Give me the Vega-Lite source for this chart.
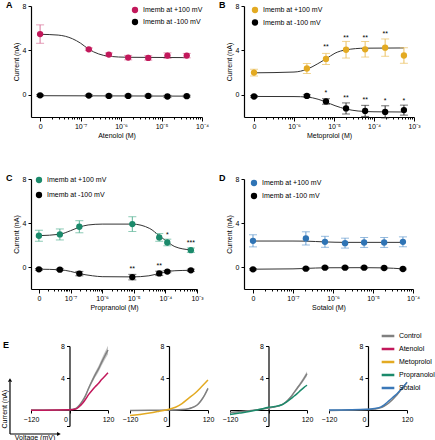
{
"$schema": "https://vega.github.io/schema/vega-lite/v6.json",
"padding": {"left": 1, "top": 1, "right": 0, "bottom": 0},
"config": {
  "font": "Liberation Sans",
  "view": {"stroke": null},
  "axis": {"grid": false, "domainColor": "#000", "tickColor": "#000", "labelColor": "#000", "titleColor": "#000", "labelFontSize": 7, "titleFontSize": 7, "titleFontWeight": "normal", "domainWidth": 1.2, "tickWidth": 1, "labelPadding": 2, "titlePadding": 3},
  "axisX": {"labelPadding": 1, "titlePadding": 2},
  "title": {"fontSize": 9, "fontWeight": "bold", "anchor": "start", "frame": "group", "dx": -25, "offset": -8, "color": "#000"},
  "legend": {"labelFontSize": 7, "labelColor": "#000", "padding": 0}
},
"datasets": {
  "A": [
    {"series":"+100 mV","conc":1e-8,"v":5.47,"err":0.83},
    {"series":"+100 mV","conc":1.6e-7,"v":4.1,"err":0.12},
    {"series":"+100 mV","conc":5e-7,"v":3.62,"err":0.15},
    {"series":"+100 mV","conc":1.5e-6,"v":3.35,"err":0.2},
    {"series":"+100 mV","conc":4.7e-6,"v":3.32,"err":0.2},
    {"series":"+100 mV","conc":1.4e-5,"v":3.53,"err":0.25},
    {"series":"+100 mV","conc":4.2e-5,"v":3.53,"err":0.2},
    {"series":"-100 mV","conc":1e-8,"v":-0.05,"err":0.08},
    {"series":"-100 mV","conc":1.6e-7,"v":-0.07,"err":0.08},
    {"series":"-100 mV","conc":5e-7,"v":-0.1,"err":0.08},
    {"series":"-100 mV","conc":1.5e-6,"v":-0.1,"err":0.08},
    {"series":"-100 mV","conc":4.7e-6,"v":-0.1,"err":0.08},
    {"series":"-100 mV","conc":1.4e-5,"v":-0.15,"err":0.1},
    {"series":"-100 mV","conc":4.2e-5,"v":-0.12,"err":0.08}
  ],
  "Afit": [
    {"series":"+100 mV","conc":1e-8,"v":5.45},
    {"series":"+100 mV","conc":2.8e-8,"v":5.38},
    {"series":"+100 mV","conc":6.3e-8,"v":5.05},
    {"series":"+100 mV","conc":1e-7,"v":4.65},
    {"series":"+100 mV","conc":1.6e-7,"v":4.1},
    {"series":"+100 mV","conc":2.8e-7,"v":3.68},
    {"series":"+100 mV","conc":5e-7,"v":3.47},
    {"series":"+100 mV","conc":1.5e-6,"v":3.38},
    {"series":"+100 mV","conc":4.2e-5,"v":3.35},
    {"series":"-100 mV","conc":1e-8,"v":-0.08},
    {"series":"-100 mV","conc":4.2e-5,"v":-0.12}
  ],
  "B": [
    {"series":"+100 mV","conc":1e-7,"v":2.0,"err":0.3},
    {"series":"+100 mV","conc":2.1e-6,"v":2.37,"err":0.45},
    {"series":"+100 mV","conc":6.3e-6,"v":3.23,"err":0.5},
    {"series":"+100 mV","conc":2e-5,"v":4.06,"err":0.75},
    {"series":"+100 mV","conc":6e-5,"v":4.1,"err":0.7},
    {"series":"+100 mV","conc":1.9e-4,"v":4.25,"err":0.78},
    {"series":"+100 mV","conc":5.6e-4,"v":3.54,"err":0.7},
    {"series":"-100 mV","conc":1e-7,"v":-0.15,"err":0.08},
    {"series":"-100 mV","conc":2.1e-6,"v":-0.1,"err":0.1},
    {"series":"-100 mV","conc":6.3e-6,"v":-0.6,"err":0.25},
    {"series":"-100 mV","conc":2e-5,"v":-1.23,"err":0.5},
    {"series":"-100 mV","conc":6e-5,"v":-1.45,"err":0.5},
    {"series":"-100 mV","conc":1.9e-4,"v":-1.54,"err":0.55},
    {"series":"-100 mV","conc":5.6e-4,"v":-1.38,"err":0.45}
  ],
  "Bfit": [
    {"series":"+100 mV","conc":1e-7,"v":1.98},
    {"series":"+100 mV","conc":1e-6,"v":2.05},
    {"series":"+100 mV","conc":2.1e-6,"v":2.3},
    {"series":"+100 mV","conc":3.8e-6,"v":2.77},
    {"series":"+100 mV","conc":6.3e-6,"v":3.23},
    {"series":"+100 mV","conc":1.06e-5,"v":3.75},
    {"series":"+100 mV","conc":2e-5,"v":4.05},
    {"series":"+100 mV","conc":6e-5,"v":4.2},
    {"series":"+100 mV","conc":5.6e-4,"v":4.22},
    {"series":"-100 mV","conc":1e-7,"v":-0.15},
    {"series":"-100 mV","conc":1e-6,"v":-0.16},
    {"series":"-100 mV","conc":2.1e-6,"v":-0.2},
    {"series":"-100 mV","conc":4e-6,"v":-0.4},
    {"series":"-100 mV","conc":6.3e-6,"v":-0.65},
    {"series":"-100 mV","conc":1.06e-5,"v":-0.98},
    {"series":"-100 mV","conc":2e-5,"v":-1.28},
    {"series":"-100 mV","conc":4e-5,"v":-1.46},
    {"series":"-100 mV","conc":1e-4,"v":-1.53},
    {"series":"-100 mV","conc":5.6e-4,"v":-1.55}
  ],
  "Bstars": [
    {"conc":6.3e-6,"v":4.3,"label":"**"},
    {"conc":2e-5,"v":5.08,"label":"**"},
    {"conc":6e-5,"v":5.08,"label":"**"},
    {"conc":1.9e-4,"v":5.45,"label":"**"},
    {"conc":6.3e-6,"v":0.12,"label":"*"},
    {"conc":2e-5,"v":-0.3,"label":"**"},
    {"conc":6e-5,"v":-0.46,"label":"**"},
    {"conc":1.9e-4,"v":-0.55,"label":"*"},
    {"conc":5.6e-4,"v":-0.52,"label":"*"}
  ],
  "C": [
    {"series":"+100 mV","conc":1e-8,"v":2.84,"err":0.5},
    {"series":"+100 mV","conc":4.6e-8,"v":2.96,"err":0.5},
    {"series":"+100 mV","conc":1.9e-7,"v":3.66,"err":0.55},
    {"series":"+100 mV","conc":9e-6,"v":3.9,"err":0.67},
    {"series":"+100 mV","conc":6.4e-5,"v":2.69,"err":0.35},
    {"series":"+100 mV","conc":1.15e-4,"v":2.23,"err":0.3},
    {"series":"+100 mV","conc":6.4e-4,"v":1.53,"err":0.2},
    {"series":"-100 mV","conc":1e-8,"v":-0.21,"err":0.08},
    {"series":"-100 mV","conc":4.6e-8,"v":-0.24,"err":0.08},
    {"series":"-100 mV","conc":1.9e-7,"v":-0.6,"err":0.2},
    {"series":"-100 mV","conc":9e-6,"v":-0.92,"err":0.25},
    {"series":"-100 mV","conc":6.4e-5,"v":-0.58,"err":0.2},
    {"series":"-100 mV","conc":1.15e-4,"v":-0.42,"err":0.1},
    {"series":"-100 mV","conc":6.4e-4,"v":-0.3,"err":0.1}
  ],
  "Cfit": [
    {"series":"+100 mV","conc":1e-8,"v":2.85},
    {"series":"+100 mV","conc":4.6e-8,"v":2.98},
    {"series":"+100 mV","conc":1e-7,"v":3.3},
    {"series":"+100 mV","conc":1.9e-7,"v":3.62},
    {"series":"+100 mV","conc":3.6e-7,"v":3.82},
    {"series":"+100 mV","conc":1e-6,"v":3.9},
    {"series":"+100 mV","conc":9e-6,"v":3.9},
    {"series":"+100 mV","conc":3.2e-5,"v":3.5},
    {"series":"+100 mV","conc":6.4e-5,"v":2.85},
    {"series":"+100 mV","conc":1.15e-4,"v":2.3},
    {"series":"+100 mV","conc":2e-4,"v":1.85},
    {"series":"+100 mV","conc":6.4e-4,"v":1.55},
    {"series":"-100 mV","conc":1e-8,"v":-0.2},
    {"series":"-100 mV","conc":4.6e-8,"v":-0.25},
    {"series":"-100 mV","conc":1e-7,"v":-0.4},
    {"series":"-100 mV","conc":1.9e-7,"v":-0.6},
    {"series":"-100 mV","conc":5e-7,"v":-0.8},
    {"series":"-100 mV","conc":1e-6,"v":-0.88},
    {"series":"-100 mV","conc":9e-6,"v":-0.9},
    {"series":"-100 mV","conc":3e-5,"v":-0.8},
    {"series":"-100 mV","conc":6.4e-5,"v":-0.58},
    {"series":"-100 mV","conc":1.15e-4,"v":-0.42},
    {"series":"-100 mV","conc":2e-4,"v":-0.34},
    {"series":"-100 mV","conc":6.4e-4,"v":-0.3}
  ],
  "Cstars": [
    {"conc":1.15e-4,"v":2.93,"label":"*"},
    {"conc":6.4e-4,"v":2.2,"label":"***"},
    {"conc":9e-6,"v":-0.22,"label":"**"},
    {"conc":6.4e-5,"v":0.1,"label":"**"}
  ],
  "D": [
    {"series":"+100 mV","conc":1e-8,"v":2.38,"err":0.55},
    {"series":"+100 mV","conc":2.1e-7,"v":2.6,"err":0.6},
    {"series":"+100 mV","conc":6.3e-7,"v":2.29,"err":0.5},
    {"series":"+100 mV","conc":2e-6,"v":2.17,"err":0.45},
    {"series":"+100 mV","conc":6e-6,"v":2.23,"err":0.45},
    {"series":"+100 mV","conc":1.9e-5,"v":2.23,"err":0.45},
    {"series":"+100 mV","conc":5.6e-5,"v":2.29,"err":0.45},
    {"series":"-100 mV","conc":1e-8,"v":-0.21,"err":0.07},
    {"series":"-100 mV","conc":2.1e-7,"v":-0.15,"err":0.07},
    {"series":"-100 mV","conc":6.3e-7,"v":-0.06,"err":0.07},
    {"series":"-100 mV","conc":2e-6,"v":-0.06,"err":0.07},
    {"series":"-100 mV","conc":6e-6,"v":-0.06,"err":0.07},
    {"series":"-100 mV","conc":1.9e-5,"v":-0.09,"err":0.07},
    {"series":"-100 mV","conc":5.6e-5,"v":-0.18,"err":0.07}
  ],
  "Dfit": [
    {"series":"+100 mV","conc":1e-8,"v":2.36},
    {"series":"+100 mV","conc":1e-7,"v":2.36},
    {"series":"+100 mV","conc":2.1e-7,"v":2.35},
    {"series":"+100 mV","conc":6.3e-7,"v":2.28},
    {"series":"+100 mV","conc":2e-6,"v":2.24},
    {"series":"+100 mV","conc":5.6e-5,"v":2.24},
    {"series":"-100 mV","conc":1e-8,"v":-0.2},
    {"series":"-100 mV","conc":1e-7,"v":-0.17},
    {"series":"-100 mV","conc":2.1e-7,"v":-0.13},
    {"series":"-100 mV","conc":6.3e-7,"v":-0.07},
    {"series":"-100 mV","conc":6e-6,"v":-0.06},
    {"series":"-100 mV","conc":1.9e-5,"v":-0.08},
    {"series":"-100 mV","conc":5.6e-5,"v":-0.17}
  ],
  "E": [
    {"p":1,"s":"Control","V":-120,"I":0,"lo":-0.03,"hi":0.03},
    {"p":1,"s":"Control","V":-80,"I":0,"lo":-0.03,"hi":0.03},
    {"p":1,"s":"Control","V":-40,"I":0,"lo":-0.03,"hi":0.03},
    {"p":1,"s":"Control","V":0,"I":0.02,"lo":-0.01,"hi":0.05},
    {"p":1,"s":"Control","V":20,"I":0.2,"lo":0.15,"hi":0.25},
    {"p":1,"s":"Control","V":30,"I":0.55,"lo":0.47,"hi":0.63},
    {"p":1,"s":"Control","V":40,"I":1.1,"lo":0.98,"hi":1.22},
    {"p":1,"s":"Control","V":50,"I":1.8,"lo":1.63,"hi":1.97},
    {"p":1,"s":"Control","V":60,"I":2.75,"lo":2.53,"hi":2.97},
    {"p":1,"s":"Control","V":70,"I":3.6,"lo":3.33,"hi":3.87},
    {"p":1,"s":"Control","V":80,"I":4.4,"lo":4.08,"hi":4.72},
    {"p":1,"s":"Control","V":90,"I":5.1,"lo":4.73,"hi":5.47},
    {"p":1,"s":"Control","V":100,"I":5.95,"lo":5.53,"hi":6.37},
    {"p":1,"s":"Control","V":110,"I":6.75,"lo":6.28,"hi":7.22},
    {"p":1,"s":"Control","V":120,"I":7.5,"lo":6.98,"hi":8.02},
    {"p":1,"s":"Atenolol","V":-120,"I":-0.02},
    {"p":1,"s":"Atenolol","V":-80,"I":-0.02},
    {"p":1,"s":"Atenolol","V":-40,"I":-0.01},
    {"p":1,"s":"Atenolol","V":0,"I":0.02},
    {"p":1,"s":"Atenolol","V":20,"I":0.12},
    {"p":1,"s":"Atenolol","V":30,"I":0.4},
    {"p":1,"s":"Atenolol","V":40,"I":0.8},
    {"p":1,"s":"Atenolol","V":50,"I":1.35},
    {"p":1,"s":"Atenolol","V":60,"I":1.95},
    {"p":1,"s":"Atenolol","V":70,"I":2.45},
    {"p":1,"s":"Atenolol","V":80,"I":2.9},
    {"p":1,"s":"Atenolol","V":90,"I":3.3},
    {"p":1,"s":"Atenolol","V":100,"I":3.8},
    {"p":1,"s":"Atenolol","V":110,"I":4.22},
    {"p":1,"s":"Atenolol","V":120,"I":4.65},
    {"p":2,"s":"Control","V":-120,"I":-0.05,"lo":-0.08,"hi":-0.02},
    {"p":2,"s":"Control","V":-60,"I":-0.03,"lo":-0.06,"hi":0.0},
    {"p":2,"s":"Control","V":0,"I":0.0,"lo":-0.03,"hi":0.03},
    {"p":2,"s":"Control","V":40,"I":0.05,"lo":0.01,"hi":0.09},
    {"p":2,"s":"Control","V":60,"I":0.15,"lo":0.1,"hi":0.2},
    {"p":2,"s":"Control","V":70,"I":0.28,"lo":0.22,"hi":0.34},
    {"p":2,"s":"Control","V":80,"I":0.45,"lo":0.38,"hi":0.52},
    {"p":2,"s":"Control","V":90,"I":0.75,"lo":0.66,"hi":0.84},
    {"p":2,"s":"Control","V":100,"I":1.25,"lo":1.14,"hi":1.36},
    {"p":2,"s":"Control","V":110,"I":1.9,"lo":1.77,"hi":2.03},
    {"p":2,"s":"Control","V":120,"I":2.7,"lo":2.55,"hi":2.85},
    {"p":2,"s":"Metoprolol","V":-120,"I":-0.7},
    {"p":2,"s":"Metoprolol","V":-90,"I":-0.55},
    {"p":2,"s":"Metoprolol","V":-60,"I":-0.38},
    {"p":2,"s":"Metoprolol","V":-30,"I":-0.15},
    {"p":2,"s":"Metoprolol","V":0,"I":0.1},
    {"p":2,"s":"Metoprolol","V":20,"I":0.35},
    {"p":2,"s":"Metoprolol","V":40,"I":0.8},
    {"p":2,"s":"Metoprolol","V":60,"I":1.45},
    {"p":2,"s":"Metoprolol","V":80,"I":2.1},
    {"p":2,"s":"Metoprolol","V":100,"I":2.9},
    {"p":2,"s":"Metoprolol","V":120,"I":3.75},
    {"p":3,"s":"Control","V":-120,"I":-0.3,"lo":-0.35,"hi":-0.25},
    {"p":3,"s":"Control","V":-60,"I":-0.1,"lo":-0.15,"hi":-0.05},
    {"p":3,"s":"Control","V":0,"I":0.25,"lo":0.2,"hi":0.3},
    {"p":3,"s":"Control","V":30,"I":0.5,"lo":0.43,"hi":0.57},
    {"p":3,"s":"Control","V":50,"I":0.85,"lo":0.76,"hi":0.94},
    {"p":3,"s":"Control","V":60,"I":1.2,"lo":1.09,"hi":1.31},
    {"p":3,"s":"Control","V":70,"I":1.65,"lo":1.52,"hi":1.78},
    {"p":3,"s":"Control","V":80,"I":2.2,"lo":2.05,"hi":2.35},
    {"p":3,"s":"Control","V":90,"I":2.75,"lo":2.57,"hi":2.93},
    {"p":3,"s":"Control","V":100,"I":3.3,"lo":3.08,"hi":3.52},
    {"p":3,"s":"Control","V":110,"I":3.9,"lo":3.65,"hi":4.15},
    {"p":3,"s":"Control","V":120,"I":4.55,"lo":4.25,"hi":4.85},
    {"p":3,"s":"Propranolol","V":-120,"I":-0.55},
    {"p":3,"s":"Propranolol","V":-90,"I":-0.38},
    {"p":3,"s":"Propranolol","V":-60,"I":-0.2},
    {"p":3,"s":"Propranolol","V":-30,"I":0.05},
    {"p":3,"s":"Propranolol","V":0,"I":0.33},
    {"p":3,"s":"Propranolol","V":20,"I":0.45},
    {"p":3,"s":"Propranolol","V":40,"I":0.62},
    {"p":3,"s":"Propranolol","V":50,"I":0.85},
    {"p":3,"s":"Propranolol","V":60,"I":1.12},
    {"p":3,"s":"Propranolol","V":70,"I":1.42},
    {"p":3,"s":"Propranolol","V":80,"I":1.75},
    {"p":3,"s":"Propranolol","V":90,"I":2.07},
    {"p":3,"s":"Propranolol","V":100,"I":2.45},
    {"p":3,"s":"Propranolol","V":110,"I":2.8},
    {"p":3,"s":"Propranolol","V":120,"I":3.1},
    {"p":4,"s":"Control","V":-120,"I":-0.05,"lo":-0.08,"hi":-0.02},
    {"p":4,"s":"Control","V":0,"I":0.05,"lo":0.02,"hi":0.08},
    {"p":4,"s":"Control","V":20,"I":0.12,"lo":0.08,"hi":0.16},
    {"p":4,"s":"Control","V":40,"I":0.3,"lo":0.25,"hi":0.35},
    {"p":4,"s":"Control","V":50,"I":0.5,"lo":0.44,"hi":0.56},
    {"p":4,"s":"Control","V":60,"I":0.75,"lo":0.68,"hi":0.82},
    {"p":4,"s":"Control","V":70,"I":1.1,"lo":1.02,"hi":1.18},
    {"p":4,"s":"Control","V":80,"I":1.5,"lo":1.41,"hi":1.59},
    {"p":4,"s":"Control","V":90,"I":1.95,"lo":1.85,"hi":2.05},
    {"p":4,"s":"Control","V":100,"I":2.45,"lo":2.33,"hi":2.57},
    {"p":4,"s":"Control","V":110,"I":2.95,"lo":2.82,"hi":3.08},
    {"p":4,"s":"Control","V":120,"I":3.45,"lo":3.3,"hi":3.6},
    {"p":4,"s":"Sotalol","V":-120,"I":0.0},
    {"p":4,"s":"Sotalol","V":0,"I":0.1},
    {"p":4,"s":"Sotalol","V":20,"I":0.2},
    {"p":4,"s":"Sotalol","V":40,"I":0.4},
    {"p":4,"s":"Sotalol","V":50,"I":0.65},
    {"p":4,"s":"Sotalol","V":60,"I":1.0},
    {"p":4,"s":"Sotalol","V":70,"I":1.35},
    {"p":4,"s":"Sotalol","V":80,"I":1.7},
    {"p":4,"s":"Sotalol","V":90,"I":2.07},
    {"p":4,"s":"Sotalol","V":100,"I":2.5},
    {"p":4,"s":"Sotalol","V":110,"I":2.95},
    {"p":4,"s":"Sotalol","V":120,"I":3.45}
  ],
  "schemRules": [
    {"V":-185.5,"I":-3.0,"V2":-185.5,"I2":3.5},
    {"V":-185.5,"I":-3.0,"V2":-36,"I2":-3.0}
  ],
  "schemHeads": [
    {"V":-185.5,"I":3.75,"shape":"triangle-up"},
    {"V":-33,"I":-3.0,"shape":"triangle-right"}
  ],
  "schemText": [
    {"V":-201,"I":0.1,"t":"Current (nA)","a":270},
    {"V":-107.5,"I":-3.55,"t":"Voltage (mV)","a":0}
  ]
},
"vconcat": [
 {
  "spacing": 36,
  "vconcat": [
  {
    "bounds": "flush",
    "spacing": 42,
    "resolve": {"scale": {"color": "independent"}},
    "hconcat": [
      {
        "title": {"text": "A"},
        "width": 171, "height": 111,
        "encoding": {
          "x": {"field": "conc", "type": "quantitative", "scale": {"type": "log", "domain": [5.96e-9, 1e-4], "nice": false},
            "axis": {"title": "Atenolol (M)", "tickCount": 12, "labelFlush": false, "labelOverlap": false,
              "labelExpr": "abs(log(datum.value)/LN10+8)<0.01 ? '0' : (abs(log(datum.value)/LN10-round(log(datum.value)/LN10))<0.01 ? '10⁻'+substring('⁰¹²³⁴⁵⁶⁷⁸⁹',-round(log(datum.value)/LN10),1-round(log(datum.value)/LN10)) : '')",
              "tickSize": {"condition": {"test": "abs(log(datum.value)/LN10-round(log(datum.value)/LN10))<0.01", "value": 4}, "value": 2},
              "tickOpacity": {"condition": {"test": "datum.value<0.99e-8", "value": 0}, "value": 1}}},
          "y": {"field": "v", "type": "quantitative", "scale": {"domain": [-2, 8], "nice": false}, "axis": {"values": [0, 4, 8], "title": "Current (nA)", "tickSize": 3}}
        },
        "layer": [
          {"data": {"name": "Afit"}, "mark": {"type": "line", "interpolate": "monotone", "color": "#333", "strokeWidth": 1}, "encoding": {"detail": {"field": "series"}}},
          {"data": {"name": "A"}, "transform": [{"filter": "datum.series=='+100 mV'"}], "mark": {"type": "errorbar", "ticks": {"size": 8, "thickness": 1}, "thickness": 1, "color": "#D8739A"}, "encoding": {"yError": {"field": "err"}}},
          {"data": {"name": "A"}, "transform": [{"filter": "datum.series=='-100 mV'"}], "mark": {"type": "errorbar", "ticks": {"size": 8, "thickness": 1}, "thickness": 1, "color": "#333"}, "encoding": {"yError": {"field": "err"}}},
          {"data": {"name": "A"}, "mark": {"type": "point", "filled": true, "size": 40, "opacity": 1},
            "encoding": {"color": {"field": "series", "type": "nominal", "scale": {"domain": ["+100 mV", "-100 mV"], "range": ["#C2185B", "#000000"]},
              "legend": {"title": null, "orient": "none", "legendX": 100, "legendY": 0, "labelExpr": "'Imemb at ' + datum.label", "symbolSize": 40, "symbolType": "circle", "rowPadding": 4}}}}
        ]
      },
      {
        "title": {"text": "B"},
        "width": 170, "height": 111,
        "encoding": {
          "x": {"field": "conc", "type": "quantitative", "scale": {"type": "log", "domain": [5.62e-8, 1e-3], "nice": false},
            "axis": {"title": "Metoprolol (M)", "tickCount": 12, "labelFlush": false, "labelOverlap": false,
              "labelExpr": "abs(log(datum.value)/LN10+7)<0.01 ? '0' : (abs(log(datum.value)/LN10-round(log(datum.value)/LN10))<0.01 ? '10⁻'+substring('⁰¹²³⁴⁵⁶⁷⁸⁹',-round(log(datum.value)/LN10),1-round(log(datum.value)/LN10)) : '')",
              "tickSize": {"condition": {"test": "abs(log(datum.value)/LN10-round(log(datum.value)/LN10))<0.01", "value": 4}, "value": 2},
              "tickOpacity": {"condition": {"test": "datum.value<0.99e-7", "value": 0}, "value": 1}}},
          "y": {"field": "v", "type": "quantitative", "scale": {"domain": [-2, 8], "nice": false}, "axis": {"values": [0, 4, 8], "title": "Current (nA)", "tickSize": 3}}
        },
        "layer": [
          {"data": {"name": "Bfit"}, "mark": {"type": "line", "interpolate": "monotone", "color": "#333", "strokeWidth": 1}, "encoding": {"detail": {"field": "series"}}},
          {"data": {"name": "B"}, "transform": [{"filter": "datum.series=='+100 mV'"}], "mark": {"type": "errorbar", "ticks": {"size": 8, "thickness": 1}, "thickness": 1, "color": "#EBC060"}, "encoding": {"yError": {"field": "err"}}},
          {"data": {"name": "B"}, "transform": [{"filter": "datum.series=='-100 mV'"}], "mark": {"type": "errorbar", "ticks": {"size": 8, "thickness": 1}, "thickness": 1, "color": "#333"}, "encoding": {"yError": {"field": "err"}}},
          {"data": {"name": "B"}, "mark": {"type": "point", "filled": true, "size": 40, "opacity": 1},
            "encoding": {"color": {"field": "series", "type": "nominal", "scale": {"domain": ["+100 mV", "-100 mV"], "range": ["#E3AA22", "#000000"]},
              "legend": {"title": null, "orient": "none", "legendX": 7, "legendY": 0, "labelExpr": "'Imemb at ' + datum.label", "symbolSize": 40, "symbolType": "circle", "rowPadding": 4.5}}}},
          {"data": {"name": "Bstars"}, "mark": {"type": "text", "fontSize": 7, "baseline": "middle", "color": "#000"}, "encoding": {"text": {"field": "label"}}}
        ]
      }
    ]
  },
  {
    "bounds": "flush",
    "spacing": 47,
    "resolve": {"scale": {"color": "independent"}},
    "hconcat": [
      {
        "title": {"text": "C"},
        "width": 166, "height": 110,
        "encoding": {
          "x": {"field": "conc", "type": "quantitative", "scale": {"type": "log", "domain": [5.62e-9, 1e-3], "nice": false},
            "axis": {"title": "Propranolol (M)", "tickCount": 12, "labelFlush": false, "labelOverlap": false,
              "labelExpr": "abs(log(datum.value)/LN10+8)<0.01 ? '0' : (abs(log(datum.value)/LN10-round(log(datum.value)/LN10))<0.01 ? '10⁻'+substring('⁰¹²³⁴⁵⁶⁷⁸⁹',-round(log(datum.value)/LN10),1-round(log(datum.value)/LN10)) : '')",
              "tickSize": {"condition": {"test": "abs(log(datum.value)/LN10-round(log(datum.value)/LN10))<0.01", "value": 4}, "value": 2},
              "tickOpacity": {"condition": {"test": "datum.value<0.99e-8", "value": 0}, "value": 1}}},
          "y": {"field": "v", "type": "quantitative", "scale": {"domain": [-2, 8], "nice": false}, "axis": {"values": [0, 4, 8], "title": "Current (nA)", "tickSize": 3}}
        },
        "layer": [
          {"data": {"name": "Cfit"}, "mark": {"type": "line", "interpolate": "monotone", "color": "#333", "strokeWidth": 1}, "encoding": {"detail": {"field": "series"}}},
          {"data": {"name": "C"}, "transform": [{"filter": "datum.series=='+100 mV'"}], "mark": {"type": "errorbar", "ticks": {"size": 8, "thickness": 1}, "thickness": 1, "color": "#5AB396"}, "encoding": {"yError": {"field": "err"}}},
          {"data": {"name": "C"}, "transform": [{"filter": "datum.series=='-100 mV'"}], "mark": {"type": "errorbar", "ticks": {"size": 8, "thickness": 1}, "thickness": 1, "color": "#333"}, "encoding": {"yError": {"field": "err"}}},
          {"data": {"name": "C"}, "mark": {"type": "point", "filled": true, "size": 40, "opacity": 1},
            "encoding": {"color": {"field": "series", "type": "nominal", "scale": {"domain": ["+100 mV", "-100 mV"], "range": ["#1B8A6B", "#000000"]},
              "legend": {"title": null, "orient": "none", "legendX": 4, "legendY": -3, "labelExpr": "'Imemb at ' + datum.label", "symbolSize": 40, "symbolType": "circle", "rowPadding": 7}}}},
          {"data": {"name": "Cstars"}, "mark": {"type": "text", "fontSize": 7, "baseline": "middle", "color": "#000"}, "encoding": {"text": {"field": "label"}}}
        ]
      },
      {
        "title": {"text": "D"},
        "width": 169, "height": 110,
        "encoding": {
          "x": {"field": "conc", "type": "quantitative", "scale": {"type": "log", "domain": [5.96e-9, 1e-4], "nice": false},
            "axis": {"title": "Sotalol (M)", "tickCount": 12, "labelFlush": false, "labelOverlap": false,
              "labelExpr": "abs(log(datum.value)/LN10+8)<0.01 ? '0' : (abs(log(datum.value)/LN10-round(log(datum.value)/LN10))<0.01 ? '10⁻'+substring('⁰¹²³⁴⁵⁶⁷⁸⁹',-round(log(datum.value)/LN10),1-round(log(datum.value)/LN10)) : '')",
              "tickSize": {"condition": {"test": "abs(log(datum.value)/LN10-round(log(datum.value)/LN10))<0.01", "value": 4}, "value": 2},
              "tickOpacity": {"condition": {"test": "datum.value<0.99e-8", "value": 0}, "value": 1}}},
          "y": {"field": "v", "type": "quantitative", "scale": {"domain": [-2, 8], "nice": false}, "axis": {"values": [0, 4, 8], "title": "Current (nA)", "tickSize": 3}}
        },
        "layer": [
          {"data": {"name": "Dfit"}, "mark": {"type": "line", "interpolate": "monotone", "color": "#333", "strokeWidth": 1}, "encoding": {"detail": {"field": "series"}}},
          {"data": {"name": "D"}, "transform": [{"filter": "datum.series=='+100 mV'"}], "mark": {"type": "errorbar", "ticks": {"size": 8, "thickness": 1}, "thickness": 1, "color": "#6A9ED0"}, "encoding": {"yError": {"field": "err"}}},
          {"data": {"name": "D"}, "transform": [{"filter": "datum.series=='-100 mV'"}], "mark": {"type": "errorbar", "ticks": {"size": 8, "thickness": 1}, "thickness": 1, "color": "#333"}, "encoding": {"yError": {"field": "err"}}},
          {"data": {"name": "D"}, "mark": {"type": "point", "filled": true, "size": 40, "opacity": 1},
            "encoding": {"color": {"field": "series", "type": "nominal", "scale": {"domain": ["+100 mV", "-100 mV"], "range": ["#2F74B5", "#000000"]},
              "legend": {"title": null, "orient": "none", "legendX": 6, "legendY": 0, "labelExpr": "'Imemb at ' + datum.label", "symbolSize": 40, "symbolType": "circle", "rowPadding": 5}}}}
        ]
      }
    ]
  }
  ]
 },
  {
    "bounds": "flush",
    "spacing": 22,
    "resolve": {"scale": {"color": "independent"}},
    "hconcat": [
      {
        "title": {"text": "E", "dx": -28},
        "width": 77, "height": 80,
        "encoding": {
          "x": {"field": "V", "type": "quantitative", "scale": {"domain": [-120, 120], "nice": false}, "axis": {"values": [-120, 0, 120], "title": null, "offset": -16, "tickSize": 3, "labelPadding": 2, "labelFlush": false, "labelAlign": {"condition": {"test": "datum.value==0", "value": "right"}, "value": "center"}, "labelOffset": {"condition": {"test": "datum.value==0", "value": -2}, "value": 0}}},
          "y": {"field": "I", "type": "quantitative", "scale": {"domain": [-2, 8], "nice": false}, "axis": {"values": [-2, 4, 8], "labelExpr": "datum.value==-2 ? '' : datum.label", "title": null, "offset": -38.5, "tickSize": 3}}
        },
        "layer": [
          {"data": {"name": "E"}, "transform": [{"filter": "datum.p==1 && datum.s=='Control'"}], "mark": {"type": "area", "color": "#c4c4c4", "interpolate": "monotone"},
            "encoding": {"y": {"field": "lo", "type": "quantitative", "scale": {"domain": [-2, 8], "nice": false}, "axis": {"values": [-2, 4, 8], "labelExpr": "datum.value==-2 ? '' : datum.label", "title": null, "offset": -38.5, "tickSize": 3}}, "y2": {"field": "hi"}}},
          {"data": {"name": "E"}, "transform": [{"filter": "datum.p==1 && datum.s=='Control'"}], "mark": {"type": "line", "strokeWidth": 1.5, "interpolate": "monotone"},
            "encoding": {"color": {"field": "s", "type": "nominal", "scale": {"domain": ["Control", "Atenolol", "Metoprolol", "Propranolol", "Sotalol"], "range": ["#808080", "#C2185B", "#E3AA22", "#1B8A6B", "#3A78B8"]}, "legend": null}}},
          {"data": {"name": "E"}, "transform": [{"filter": "datum.p==1 && datum.s!='Control'"}], "mark": {"type": "line", "strokeWidth": 1.5, "interpolate": "monotone"},
            "encoding": {"color": {"field": "s", "type": "nominal", "scale": {"domain": ["Control", "Atenolol", "Metoprolol", "Propranolol", "Sotalol"], "range": ["#808080", "#C2185B", "#E3AA22", "#1B8A6B", "#3A78B8"]}, "legend": null}}},
          {"data": {"name": "schemRules"}, "mark": {"type": "rule", "color": "#000", "strokeWidth": 1.2}, "encoding": {"x2": {"field": "V2"}, "y2": {"field": "I2"}}},
          {"data": {"name": "schemHeads"}, "mark": {"type": "point", "filled": true, "color": "#000", "size": 18, "opacity": 1}, "encoding": {"shape": {"field": "shape", "type": "nominal", "scale": null}}},
          {"data": {"name": "schemText"}, "mark": {"type": "text", "fontSize": 7, "color": "#000"}, "encoding": {"text": {"field": "t"}, "angle": {"field": "a", "type": "quantitative", "scale": null}}}
        ]
      },
      {
        "width": 78, "height": 80,
        "encoding": {
          "x": {"field": "V", "type": "quantitative", "scale": {"domain": [-120, 120], "nice": false}, "axis": {"values": [-120, 0, 120], "title": null, "offset": -16, "tickSize": 3, "labelPadding": 2, "labelFlush": false, "labelAlign": {"condition": {"test": "datum.value==0", "value": "right"}, "value": "center"}, "labelOffset": {"condition": {"test": "datum.value==0", "value": -2}, "value": 0}}},
          "y": {"field": "I", "type": "quantitative", "scale": {"domain": [-2, 8], "nice": false}, "axis": {"values": [-2, 4, 8], "labelExpr": "datum.value==-2 ? '' : datum.label", "title": null, "offset": -39, "tickSize": 3}}
        },
        "layer": [
          {"data": {"name": "E"}, "transform": [{"filter": "datum.p==2 && datum.s=='Control'"}], "mark": {"type": "area", "color": "#c4c4c4", "interpolate": "monotone"},
            "encoding": {"y": {"field": "lo", "type": "quantitative", "scale": {"domain": [-2, 8], "nice": false}, "axis": {"values": [-2, 4, 8], "labelExpr": "datum.value==-2 ? '' : datum.label", "title": null, "offset": -39, "tickSize": 3}}, "y2": {"field": "hi"}}},
          {"data": {"name": "E"}, "transform": [{"filter": "datum.p==2 && datum.s=='Control'"}], "mark": {"type": "line", "strokeWidth": 1.5, "interpolate": "monotone"},
            "encoding": {"color": {"field": "s", "type": "nominal", "scale": {"domain": ["Control", "Atenolol", "Metoprolol", "Propranolol", "Sotalol"], "range": ["#808080", "#C2185B", "#E3AA22", "#1B8A6B", "#3A78B8"]}, "legend": null}}},
          {"data": {"name": "E"}, "transform": [{"filter": "datum.p==2 && datum.s!='Control'"}], "mark": {"type": "line", "strokeWidth": 1.5, "interpolate": "monotone"},
            "encoding": {"color": {"field": "s", "type": "nominal", "scale": {"domain": ["Control", "Atenolol", "Metoprolol", "Propranolol", "Sotalol"], "range": ["#808080", "#C2185B", "#E3AA22", "#1B8A6B", "#3A78B8"]}, "legend": null}}}
        ]
      },
      {
        "width": 77, "height": 80,
        "encoding": {
          "x": {"field": "V", "type": "quantitative", "scale": {"domain": [-120, 120], "nice": false}, "axis": {"values": [-120, 0, 120], "title": null, "offset": -16, "tickSize": 3, "labelPadding": 2, "labelFlush": false, "labelAlign": {"condition": {"test": "datum.value==0", "value": "right"}, "value": "center"}, "labelOffset": {"condition": {"test": "datum.value==0", "value": -2}, "value": 0}}},
          "y": {"field": "I", "type": "quantitative", "scale": {"domain": [-2, 8], "nice": false}, "axis": {"values": [-2, 4, 8], "labelExpr": "datum.value==-2 ? '' : datum.label", "title": null, "offset": -38.5, "tickSize": 3}}
        },
        "layer": [
          {"data": {"name": "E"}, "transform": [{"filter": "datum.p==3 && datum.s=='Control'"}], "mark": {"type": "area", "color": "#c4c4c4", "interpolate": "monotone"},
            "encoding": {"y": {"field": "lo", "type": "quantitative", "scale": {"domain": [-2, 8], "nice": false}, "axis": {"values": [-2, 4, 8], "labelExpr": "datum.value==-2 ? '' : datum.label", "title": null, "offset": -38.5, "tickSize": 3}}, "y2": {"field": "hi"}}},
          {"data": {"name": "E"}, "transform": [{"filter": "datum.p==3 && datum.s=='Control'"}], "mark": {"type": "line", "strokeWidth": 1.5, "interpolate": "monotone"},
            "encoding": {"color": {"field": "s", "type": "nominal", "scale": {"domain": ["Control", "Atenolol", "Metoprolol", "Propranolol", "Sotalol"], "range": ["#808080", "#C2185B", "#E3AA22", "#1B8A6B", "#3A78B8"]}, "legend": null}}},
          {"data": {"name": "E"}, "transform": [{"filter": "datum.p==3 && datum.s!='Control'"}], "mark": {"type": "line", "strokeWidth": 1.5, "interpolate": "monotone"},
            "encoding": {"color": {"field": "s", "type": "nominal", "scale": {"domain": ["Control", "Atenolol", "Metoprolol", "Propranolol", "Sotalol"], "range": ["#808080", "#C2185B", "#E3AA22", "#1B8A6B", "#3A78B8"]}, "legend": null}}}
        ]
      },
      {
        "width": 78, "height": 80,
        "encoding": {
          "x": {"field": "V", "type": "quantitative", "scale": {"domain": [-120, 120], "nice": false}, "axis": {"values": [-120, 0, 120], "title": null, "offset": -16, "tickSize": 3, "labelPadding": 2, "labelFlush": false, "labelAlign": {"condition": {"test": "datum.value==0", "value": "right"}, "value": "center"}, "labelOffset": {"condition": {"test": "datum.value==0", "value": -2}, "value": 0}}},
          "y": {"field": "I", "type": "quantitative", "scale": {"domain": [-2, 8], "nice": false}, "axis": {"values": [-2, 4, 8], "labelExpr": "datum.value==-2 ? '' : datum.label", "title": null, "offset": -39, "tickSize": 3}}
        },
        "layer": [
          {"data": {"name": "E"}, "transform": [{"filter": "datum.p==4 && datum.s=='Control'"}], "mark": {"type": "area", "color": "#c4c4c4", "interpolate": "monotone"},
            "encoding": {"y": {"field": "lo", "type": "quantitative", "scale": {"domain": [-2, 8], "nice": false}, "axis": {"values": [-2, 4, 8], "labelExpr": "datum.value==-2 ? '' : datum.label", "title": null, "offset": -39, "tickSize": 3}}, "y2": {"field": "hi"}}},
          {"data": {"name": "E"}, "transform": [{"filter": "datum.p==4 && datum.s=='Control'"}], "mark": {"type": "line", "strokeWidth": 1.5, "interpolate": "monotone"},
            "encoding": {"color": {"field": "s", "type": "nominal", "scale": {"domain": ["Control", "Atenolol", "Metoprolol", "Propranolol", "Sotalol"], "range": ["#808080", "#C2185B", "#E3AA22", "#1B8A6B", "#3A78B8"]},
              "legend": {"title": null, "orient": "none", "legendX": 51, "legendY": -18, "symbolType": "stroke", "symbolStrokeWidth": 2.5, "symbolSize": 160, "labelFontSize": 7, "rowPadding": -6.5, "labelOffset": 3}}}},
          {"data": {"name": "E"}, "transform": [{"filter": "datum.p==4 && datum.s!='Control'"}], "mark": {"type": "line", "strokeWidth": 1.5, "interpolate": "monotone"},
            "encoding": {"color": {"field": "s", "type": "nominal", "scale": {"domain": ["Control", "Atenolol", "Metoprolol", "Propranolol", "Sotalol"], "range": ["#808080", "#C2185B", "#E3AA22", "#1B8A6B", "#3A78B8"]},
              "legend": {"title": null, "orient": "none", "legendX": 51, "legendY": -18, "symbolType": "stroke", "symbolStrokeWidth": 2.5, "symbolSize": 160, "labelFontSize": 7, "rowPadding": -6.5, "labelOffset": 3}}}}
        ]
      }
    ]
  }
],
"spacing": 18
}
